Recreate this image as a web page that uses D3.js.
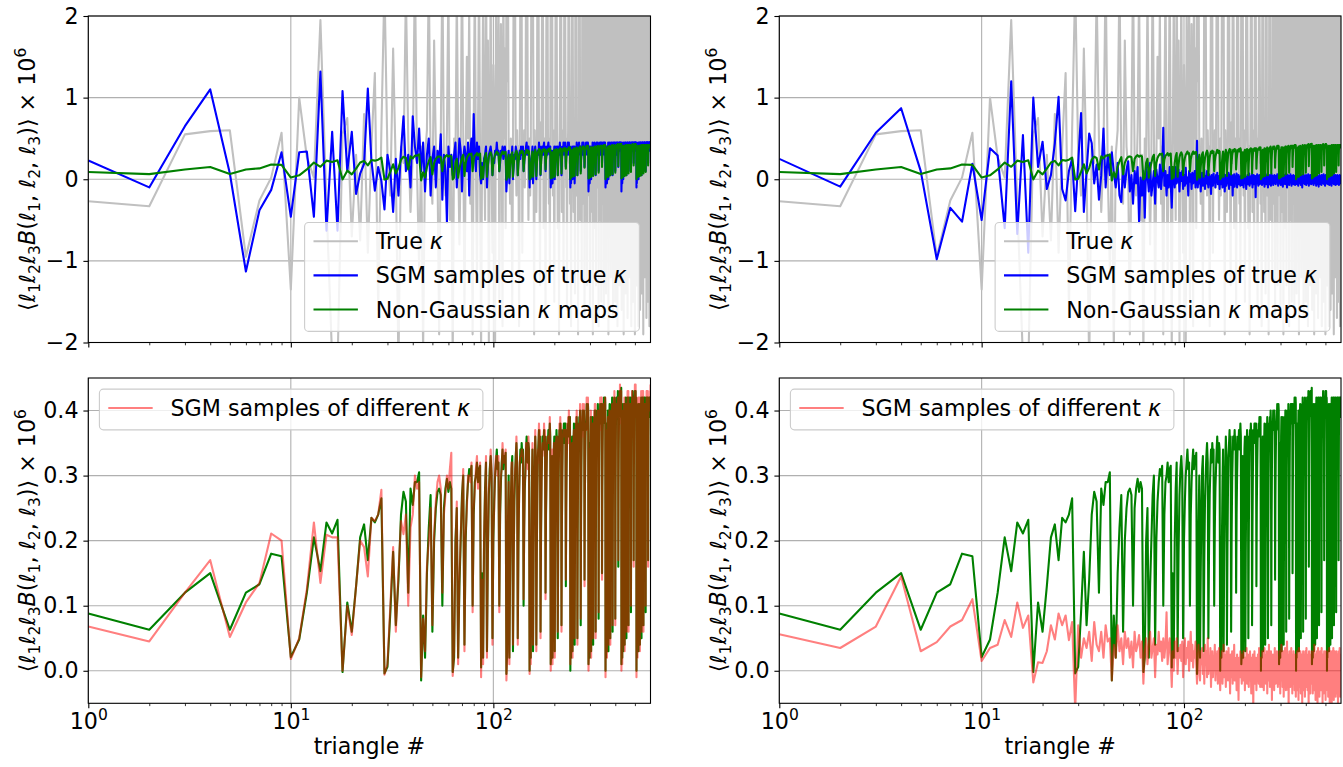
<!DOCTYPE html>
<html>
<head>
<meta charset="utf-8">
<title>Bispectrum per triangle</title>
<script src="https://cdn.jsdelivr.net/npm/d3@7"></script>
<style>
  body { margin: 0; background: #fff; }
  svg text { font-family: "DejaVu Sans", sans-serif; }
</style>
</head>
<body>
<svg id="fig" width="1343" height="767"></svg>
<script>
// <l1 l2 l3 B> x 1e6 for each triangle (1..597), one line per l3 bin

// gray: true kappa (both top panels)
var trueKappa = [
-.27,
-.33,.55,.59,
.6,-.95,-.26,.02,.57,
-1.35,1.0,.27,.02,1.95,-.3,-2.2,-2.3,
.55,.75,-.7,.3,-.75,.8,-.9,.4,1.3,-1.6,.6,
2.4,.3,-.2,1.6,.1,-2.3,.4,.2,2.3,.5,-.4,.3,2.6,.1,-1.1,
.4,-2.1,.3,.6,2.5,.2,-.3,1.7,.4,.1,-1.9,.5,2.6,.3,-.2,.6,2.4,-.5,.3,
-2.2,.5,.2,2.3,.4,-.8,.3,2.7,.6,-1.6,.2,1.5,.5,2.1,-.3,.4,-1.9,.7,2.5,.3,-1.2,.6,2.6,.2,
-2.1,.4,2.2,.6,-.5,2.8,.3,1.7,-2.0,.5,2.4,.2,-.9,1.4,.6,-2.2,2.0,.8,.3,2.6,-1.5,.4,1.9,.7,-1.8,2.7,.5,1.6,-.6,
2.3,1.2,2.8,.4,.1,-.3,.5,.2,-1.6,.4,2.6,1.9,2.4,.3,-.2,.6,.1,.4,-1.8,.3,2.7,.8,2.1,-.9,.5,.2,.6,-.1,.3,2.5,1.4,2.9,.4,-.5,.2,
.5,-.2,.3,2.4,2.9,1.6,2.2,.3,-1.9,.6,.1,.4,-.4,.2,2.6,1.3,2.8,.5,.0,-1.3,.4,.7,.2,2.3,2.7,1.8,-.6,.3,.5,.1,-1.7,.4,2.5,1.1,2.9,.6,.2,-.3,.5,-1.1,.3,
2.7,2.2,1.5,2.9,.4,-.2,.6,.1,-1.5,.3,.5,2.4,1.8,2.8,1.2,.3,-.6,.2,.4,-1.9,.1,.6,2.6,2.1,2.9,.5,-.4,.3,.0,.6,-1.2,.2,2.5,1.6,2.7,1.0,.4,-.1,.5,-1.6,.3,.2,.6,2.8,2.3,1.4,.5,-.3,
.4,.1,-1.8,.5,2.6,2.0,2.9,1.3,.3,-.4,.6,.2,.0,-1.4,2.4,1.7,2.8,.5,-.2,.4,.1,.6,-1.9,.3,2.7,2.2,1.5,2.9,.6,-.5,.2,.4,.1,-1.1,.5,2.5,1.2,2.6,.3,-.3,.6,.2,-1.7,.4,2.8,1.9,2.3,.5,.0,.4,-1.3,.3,.6,2.7,1.6,
2.9,.4,-.2,.5,.1,-1.6,.3,2.6,2.1,1.4,2.8,.6,-.4,.2,.5,-1.9,.1,.4,2.5,1.8,2.9,1.1,.3,-.6,.5,.2,-1.3,.6,2.7,2.3,1.6,2.8,.4,-.1,.3,.6,-1.8,.2,2.4,1.5,2.9,.5,-.5,.3,.1,.6,-1.5,.4,2.6,2.0,1.3,2.7,.2,-.3,.5,.0,-1.7,.4,2.8,1.7,2.5,.6,-.2,
.3,.5,-1.4,.2,2.7,2.2,1.5,2.9,.4,-.3,.6,.1,-1.9,.5,2.4,1.8,2.8,1.0,.3,-.5,.2,.6,-1.2,.4,2.6,2.1,2.9,1.4,.5,-.2,.3,.0,-1.7,.6,2.5,1.6,2.7,1.2,.4,-.6,.2,.5,-1.5,.3,2.8,2.3,1.7,2.9,.6,-.1,.4,.2,-1.8,.5,2.6,1.9,2.8,1.1,.3,-.4,.6,.1,-1.3,.4,2.7,2.0,2.9,1.5,.5,-.3,.2,
.6,-1.6,.3,2.5,1.8,2.9,1.3,.4,-.2,.5,.1,-1.9,.6,2.7,2.2,1.6,2.8,.5,-.4,.3,.2,-1.4,.4,2.6,1.9,2.9,1.1,.3,-.5,.6,.0,-1.7,.5,2.8,2.4,1.5,2.7,.4,-.1,.2,.6,-1.2,.3,2.5,2.0,2.9,1.4,.6,-.3,.4,.1,-1.8,.5,2.7,1.7,2.8,1.2,.2,-.6,.5,.3,-1.5,.4,2.6,2.3,2.9,1.6,.5,-.2,.1,.6,-1.9,.3,2.8,1.9,2.5,1.0,.4,-.4,.2,
.5,-1.3,.3,2.7,2.1,2.9,1.4,.6,-.3,.2,.4,-1.8,.5,2.6,1.8,2.8,1.2,.3,-.5,.6,.1,-1.6,.4,2.9,2.3,1.7,2.6,.5,-.2,.3,.6,-1.4,.2,2.5,1.9,2.8,1.1,.4,-.6,.5,.0,-1.9,.6,2.7,2.2,2.9,1.5,.3,-.1,.4,.2,-1.2,.5,2.8,1.6,2.6,1.3,.6,-.4,.3,.1,-1.7,.4,2.9,2.4,1.8,2.7,.5,-.3,.6,.2,-1.5,.3,2.6,2.0,2.8,1.0,.4,-.5,.5,.1,-1.8,.6,2.7,1.7,2.9,1.4,.3,-.2
];

// blue: SGM samples of true kappa, left model
var sgmTrueLeft = [
.23,
-.1,.65,1.1,
.07,-1.13,-.38,-.13,.33,
-.46,.33,.34,-.46,1.32,-.63,.58,-.63,
1.08,.1,.58,-.18,.07,.19,1.11,.23,-.14,.15,-.02,
-.37,.3,.1,-.4,.25,-.2,.35,.77,.1,.3,-.1,.77,.4,.2,.62,
.1,.45,-.15,.3,.5,-.2,.25,.4,-.1,.35,.2,.55,-.25,.3,.1,-.53,.4,.15,.3,
.05,.3,.45,-.1,.2,.5,.35,-.15,.25,.4,.3,.1,.45,-.2,.35,.5,.2,.8,.3,.1,.45,.25,.4,.05,
-.05,.2,.0,.25,.3,.4,-.1,.15,.3,.35,.4,.3,.05,.25,.2,.35,.3,.45,.3,.35,.1,.2,.35,.3,.4,.25,.35,.4,.3,
-.15,.05,.25,.35,-.05,.2,.3,.25,.4,.0,.15,.3,.25,.4,.35,.3,.05,.25,.3,.35,.25,.4,.35,.3,.4,.1,.2,.35,.3,.4,.45,.3,.35,.4,.3,
-.1,.2,.0,.25,.3,.4,-.05,.2,.3,.35,.4,.3,.0,.2,.3,.35,.3,.45,.35,.4,.05,.25,.3,.4,.35,.3,.4,.45,.3,.4,.1,.25,.35,.4,.3,.4,.45,.35,.4,.3,.4,
-.1,.0,.3,.35,-.05,.2,.35,.3,.4,.0,.2,.3,.4,.35,.3,.4,.05,.25,.3,.4,.35,.45,.3,.4,.35,.05,.25,.35,.4,.3,.45,.35,.4,.3,.45,.35,.15,.3,.35,.4,.35,.45,.3,.4,.45,.35,.4,.4,
-.1,.2,-.05,.25,.35,.4,.0,.2,.3,.4,.35,.4,-.05,.2,.3,.35,.4,.3,.45,.35,.05,.25,.35,.3,.4,.45,.35,.4,.3,.4,.1,.25,.3,.4,.35,.45,.3,.4,.35,.45,.4,.35,.15,.3,.35,.4,.3,.45,.4,.35,.45,.4,.3,.45,.4,
-.15,.0,.3,.4,-.05,.25,.3,.4,.35,.0,.2,.35,.4,.3,.45,.35,.05,.2,.35,.4,.3,.45,.4,.35,.4,.05,.25,.35,.4,.45,.3,.4,.35,.45,.4,.35,.1,.25,.35,.4,.35,.45,.4,.3,.45,.4,.35,.45,.4,.2,.3,.4,.35,.45,.4,.35,.45,.4,.3,.45,.4,.45,.4,
-.1,.2,.0,.3,.35,.4,-.05,.2,.3,.4,.35,.45,.0,.2,.35,.3,.4,.45,.35,.4,.05,.25,.3,.4,.45,.35,.4,.3,.45,.4,.05,.3,.35,.4,.45,.35,.4,.45,.3,.4,.45,.4,.1,.3,.35,.45,.4,.35,.45,.4,.3,.45,.4,.45,.35,.4,.15,.3,.4,.45,.35,.45,.4,.45,.35,.4,.45,.4,.45,.35,.45,
-.15,.0,.3,.4,-.05,.25,.35,.4,.45,.0,.2,.35,.4,.35,.45,.4,.05,.25,.35,.4,.45,.35,.45,.4,.35,.05,.3,.35,.45,.4,.35,.45,.4,.45,.35,.4,.1,.3,.4,.45,.35,.45,.4,.45,.35,.4,.45,.4,.35,.1,.3,.4,.45,.4,.45,.35,.45,.4,.45,.35,.4,.45,.4,.45,.2,.35,.4,.45,.4,.45,.35,.45,.4,.45,.4,.45,.35,.45,.4,.45,
-.1,.2,-.05,.3,.35,.4,.0,.25,.35,.4,.45,.35,.0,.25,.3,.4,.45,.35,.45,.4,.05,.25,.35,.45,.4,.45,.35,.4,.45,.4,.05,.3,.35,.45,.4,.45,.35,.45,.4,.35,.45,.4,.1,.3,.4,.45,.4,.45,.35,.45,.4,.45,.35,.4,.45,.4,.1,.35,.4,.45,.4,.45,.35,.45,.4,.45,.4,.45,.35,.45,.4,.45,.2,.35,.4,.45,.4,.45,.4,.45,.35,.45,.4,.45,.4,.45,.35,.45,.4
];

// blue: SGM samples of true kappa, right model
var sgmTrueRight = [
.25,
-.09,.57,.87,
.1,-.98,-.35,-.52,.19,
-.5,.38,.29,-.6,1.2,-.67,.54,-.9,
1.0,.15,.46,-.12,.05,.44,1.01,-.12,-.26,.1,.25,
-.39,.2,.81,-.4,.1,.56,.44,-.05,.18,-.25,.05,.62,-.1,.3,.05,
.33,.08,-.1,.2,-.2,-.28,.15,-.1,.12,.22,-.15,.05,-.3,.1,-.05,.15,-.53,.02,-.2,
.1,-.47,.15,.05,-.15,.2,-.2,-.05,.1,-.3,.12,.0,-.1,.18,-.12,.05,.63,-.08,.1,-.2,.05,-.1,.15,-.05,
-.35,.05,.1,-.1,.15,-.05,.0,.12,-.15,.08,-.02,.1,-.12,.05,-.08,.14,-.05,.02,-.2,.1,-.03,.06,-.12,.08,-.05,.0,.1,-.1,.05,
.47,-.1,.05,-.05,.1,-.15,.02,.08,-.08,.0,.12,-.12,.04,-.05,.1,-.02,-.1,.06,-.06,.03,-.18,.05,.0,-.08,.07,-.04,.02,-.1,.05,-.02,.08,-.06,.0,.04,-.12,
.05,-.06,.0,.07,-.1,.03,-.04,.06,-.15,.02,.05,-.08,.0,.04,-.05,.08,-.12,.02,-.03,.06,-.07,.01,.05,-.2,.03,-.02,.06,-.09,.0,.04,-.05,.07,-.1,.02,-.03,.05,-.06,.0,.03,-.08,.04,
-.02,.05,-.07,.02,.0,-.1,.04,-.03,.06,-.05,.01,-.12,.03,.0,.05,-.06,.02,-.04,.07,-.08,.0,.03,-.05,.04,-.02,.06,-.1,.01,-.03,.05,-.06,.02,-.01,.04,-.22,.03,.0,-.05,.06,-.03,.02,-.08,.04,-.01,.05,-.06,.0,.03,
-.04,.02,.05,-.07,.0,.03,-.05,.06,-.02,.01,-.09,.04,-.03,.02,.05,-.06,.0,.03,-.04,.07,-.1,.01,.04,-.03,.02,-.06,.05,-.01,.0,-.08,.03,.06,-.04,.01,-.02,.04,-.07,.02,.0,-.05,.05,-.03,.03,-.01,-.06,.04,.0,.02,-.04,.06,-.02,.01,-.08,.03,.0,
.02,-.05,.04,-.02,.0,.05,-.07,.01,.03,-.04,.06,-.03,.0,-.09,.02,.04,-.05,.01,.03,-.02,.05,-.06,.0,.02,-.04,.07,-.03,.01,-.1,.03,.0,.05,-.05,.02,-.02,.04,-.07,.01,.03,-.03,.0,.06,-.04,.02,-.01,-.08,.04,.0,.03,-.05,.02,-.02,.05,-.06,.01,.0,.04,-.03,.02,-.07,.03,.0,-.04,
.03,-.02,.0,.05,-.06,.02,-.03,.04,-.01,-.08,.03,.01,.05,-.04,.0,.02,-.05,.06,-.02,.01,-.07,.03,.0,.04,-.03,.02,-.1,.05,-.01,.01,-.04,.03,.06,-.05,.0,.02,-.03,.04,-.06,.01,.03,-.02,.0,.05,-.07,.02,-.01,.04,-.04,.0,.03,-.05,.02,.06,-.03,.01,-.08,.04,.0,-.02,.03,-.05,.01,.05,-.04,.02,.0,-.06,.03,-.01,.02,
-.03,.04,.0,-.05,.02,.05,-.02,.01,-.07,.03,.0,.04,-.04,.02,-.01,.06,-.05,.0,.03,-.03,.01,-.08,.04,.02,-.02,.0,.05,-.06,.01,.03,-.04,.02,-.01,.04,-.09,.0,.03,-.02,.05,-.05,.01,.02,-.03,.04,-.06,.0,.03,-.01,.02,-.07,.05,.0,-.03,.01,.04,-.04,.02,-.02,.03,-.05,.0,.06,-.03,.01,-.06,.02,.04,-.02,.0,-.08,.03,.01,-.04,.05,-.01,.02,-.05,.0,.03,-.02,
.01,-.04,.03,.0,-.02,.05,-.06,.02,.0,-.03,.04,-.05,.01,.03,-.07,.02,.0,-.02,.05,-.04,.01,.03,-.06,.0,.02,-.03,.04,-.08,.01,.03,-.02,.0,.05,-.05,.02,-.01,.03,-.04,.0,.06,-.03,.01,-.06,.02,.04,-.02,.0,-.05,.03,.01,-.03,.05,-.07,.0,.02,-.01,.04,-.04,.01,.03,-.06,.0,.02,-.03,.05,-.02,.01,-.05,.03,.0,-.04,.02,.04,-.01,-.07,.03,.0,.02,-.03,.05,-.02,.01,-.05,.03,.0,-.02,.04,-.03,.01
];

// green: non-Gaussian kappa maps (all four panels)
var nonGauss = [
.088,
.063,.12,.15,
.063,.12,.133,.18,.176,
.021,.048,.12,.205,.153,.228,.211,.232,
-.002,.105,.06,.13,.205,.225,.17,.235,.228,.24,.265,
-.004,.006,.09,.183,.07,.14,.24,.275,.26,.12,.28,.255,.29,.29,.305,
-.015,.085,.02,.15,.22,.27,.06,.2,.25,.275,.28,.27,.10,.25,.28,.295,.275,.29,.28,
-.002,.02,.2,.25,.02,.13,.2,.27,.3,.04,.2,.26,.29,.31,.3,.315,.1,.24,.29,.3,.32,.29,.31,.315,
.005,.15,.02,.2,.28,.32,.03,.18,.27,.31,.33,.3,.05,.2,.26,.3,.32,.34,.31,.32,.1,.24,.29,.32,.34,.31,.33,.32,.335,
-.005,.03,.22,.3,.02,.15,.26,.31,.33,.03,.17,.26,.3,.33,.35,.32,.05,.19,.27,.31,.34,.32,.35,.33,.34,.1,.22,.28,.31,.34,.36,.33,.32,.35,.34,
.0,.16,.02,.2,.29,.34,.03,.18,.27,.32,.36,.33,.04,.19,.28,.33,.35,.37,.33,.36,.06,.21,.29,.33,.36,.34,.35,.37,.34,.36,.12,.24,.3,.34,.36,.35,.37,.34,.36,.38,.36,
.01,.03,.25,.33,.02,.19,.29,.34,.36,.03,.18,.28,.34,.37,.35,.36,.05,.2,.29,.34,.37,.35,.38,.36,.37,.07,.22,.3,.35,.37,.36,.38,.35,.38,.36,.38,.13,.25,.31,.35,.37,.36,.38,.37,.39,.36,.38,.39,
.0,.17,.02,.22,.31,.36,.03,.2,.29,.35,.38,.36,.04,.19,.29,.35,.38,.36,.39,.37,.05,.21,.3,.35,.38,.37,.39,.36,.4,.38,.07,.23,.31,.36,.38,.37,.4,.38,.39,.37,.4,.38,.14,.26,.32,.36,.38,.37,.39,.41,.38,.4,.39,.41,.4,
.01,.03,.26,.35,.02,.2,.3,.36,.39,.03,.19,.29,.35,.39,.37,.38,.04,.2,.3,.36,.39,.37,.4,.38,.4,.06,.22,.31,.36,.39,.38,.4,.37,.41,.39,.4,.08,.24,.32,.37,.39,.38,.41,.39,.4,.38,.41,.39,.41,.15,.27,.33,.37,.39,.38,.41,.4,.42,.39,.41,.4,.42,.41,
.0,.18,.02,.23,.33,.38,.03,.21,.31,.37,.4,.38,.03,.2,.3,.36,.39,.41,.38,.4,.05,.21,.31,.37,.4,.38,.41,.39,.42,.4,.06,.23,.32,.37,.4,.39,.41,.38,.42,.4,.41,.4,.08,.25,.33,.38,.4,.39,.42,.4,.41,.39,.42,.4,.43,.41,.16,.28,.34,.38,.4,.39,.42,.41,.43,.4,.42,.41,.43,.42,.435,
.01,.03,.27,.37,.02,.21,.32,.38,.41,.03,.2,.31,.37,.4,.38,.41,.04,.21,.31,.37,.4,.39,.42,.4,.41,.05,.22,.32,.38,.4,.39,.42,.39,.41,.4,.42,.07,.24,.33,.38,.41,.39,.42,.4,.41,.39,.42,.4,.41,.09,.26,.34,.38,.4,.39,.42,.4,.41,.43,.4,.42,.39,.41,.4,.17,.29,.35,.39,.41,.39,.42,.43,.4,.42,.41,.43,.41,.4,.42,.41,
.0,.19,.02,.24,.34,.39,.03,.22,.32,.38,.4,.41,.03,.21,.31,.37,.4,.38,.41,.39,.04,.21,.32,.37,.4,.38,.41,.39,.42,.4,.05,.23,.33,.38,.4,.39,.42,.4,.41,.39,.42,.4,.07,.24,.34,.38,.41,.39,.42,.4,.41,.39,.42,.4,.41,.39,.09,.26,.35,.39,.4,.38,.42,.4,.41,.39,.42,.4,.41,.39,.42,.4,.17,.29,.36,.39,.41,.39,.42,.4,.41,.39,.42,.4,.41,.39,.42,.4,.41
];

// red: SGM samples of different kappa, left model
var sgmDiffLeft = [
.068,
.045,.12,.17,
.052,.105,.135,.211,.2,
.018,.05,.125,.228,.135,.209,.205,.205,
.0,.1,.055,.13,.2,.19,.145,.235,.23,.24,.278,
-.006,.01,.1,.19,.06,.15,.23,.21,.24,.1,.22,.24,.3,.28,.29,
-.01,.08,.03,.16,.2,.25,.07,.21,.26,.29,.3,.28,.12,.24,.27,.3,.28,.31,.335,
-.008,.03,.19,.26,.01,.14,.21,.26,.31,.03,.21,.25,.3,.3,.29,.32,.09,.25,.28,.31,.33,.28,.3,.32,
-.01,.14,.01,.21,.27,.33,.02,.19,.28,.3,.34,.31,.04,.21,.25,.31,.33,.33,.3,.33,.09,.25,.3,.31,.35,.32,.32,.33,.34,
-.015,.02,.23,.29,.01,.16,.25,.32,.32,.04,.16,.27,.31,.32,.36,.31,.04,.2,.26,.32,.33,.33,.34,.34,.33,.11,.21,.29,.3,.35,.35,.34,.31,.36,.33,
-.005,.17,.01,.21,.28,.35,.04,.17,.28,.31,.37,.32,.03,.2,.27,.34,.34,.38,.32,.37,.05,.22,.28,.34,.35,.35,.34,.38,.33,.37,.11,.25,.29,.35,.35,.36,.36,.35,.35,.39,.35,
.0,.04,.24,.34,.01,.2,.28,.35,.35,.02,.19,.27,.35,.36,.36,.35,.06,.19,.3,.33,.38,.34,.39,.35,.38,.06,.23,.29,.36,.36,.37,.37,.36,.37,.37,.37,.14,.24,.32,.34,.38,.35,.39,.36,.4,.35,.39,.38,
.01,.16,.03,.21,.32,.35,.02,.21,.28,.36,.37,.37,.05,.18,.3,.34,.39,.35,.4,.36,.04,.22,.29,.36,.37,.38,.38,.37,.41,.37,.08,.22,.32,.35,.39,.36,.41,.37,.4,.36,.41,.37,.13,.27,.31,.37,.37,.38,.38,.42,.37,.41,.38,.42,.39,
.0,.02,.27,.34,.03,.19,.31,.35,.4,.02,.2,.28,.36,.38,.38,.37,.05,.19,.31,.35,.4,.36,.41,.37,.41,.05,.23,.3,.37,.38,.39,.39,.38,.4,.4,.39,.09,.23,.33,.36,.4,.37,.42,.38,.41,.37,.42,.38,.42,.14,.28,.32,.38,.38,.39,.4,.41,.41,.4,.4,.41,.41,.42,
-.01,.19,.03,.22,.34,.37,.02,.22,.3,.38,.39,.39,.04,.19,.31,.35,.4,.4,.39,.39,.04,.22,.3,.38,.39,.39,.4,.4,.41,.41,.07,.22,.33,.36,.41,.38,.42,.37,.43,.39,.42,.39,.07,.26,.32,.39,.39,.4,.41,.41,.4,.4,.41,.41,.42,.42,.17,.27,.35,.37,.41,.38,.43,.4,.44,.39,.43,.4,.42,.43,.43,
.0,.04,.26,.38,.01,.22,.31,.39,.4,.04,.19,.32,.36,.41,.37,.42,.03,.22,.3,.38,.39,.4,.41,.41,.4,.06,.21,.33,.37,.41,.38,.43,.38,.42,.39,.43,.06,.25,.32,.39,.4,.4,.41,.41,.4,.4,.41,.41,.4,.1,.25,.35,.37,.41,.38,.43,.39,.42,.42,.41,.41,.4,.42,.39,.16,.3,.34,.4,.4,.4,.41,.44,.39,.43,.4,.44,.4,.41,.41,.42,
-.01,.2,.03,.23,.35,.38,.02,.23,.31,.39,.39,.42,.04,.2,.32,.36,.41,.37,.42,.38,.03,.22,.31,.38,.39,.39,.4,.4,.43,.39,.06,.22,.34,.37,.41,.38,.43,.39,.42,.38,.43,.39,.06,.25,.33,.39,.4,.4,.41,.41,.4,.4,.41,.41,.4,.4,.1,.25,.36,.38,.41,.37,.43,.39,.42,.38,.43,.39,.42,.38,.43,.41,.16,.3,.35,.4,.4,.4,.41,.41,.4,.4,.41,.41,.41,.4,.43,.41,.44
];

// red: SGM samples of different kappa, right model
var sgmDiffRight = [
.056,
.035,.068,.145,
.03,.044,.068,.078,.11,
.015,.035,.04,.078,.052,.105,.066,.085,
-.018,.013,.012,.03,.07,.048,.088,.07,.085,.047,.075,
-.06,.07,.02,.05,.035,.06,.015,.075,.04,.03,.06,.02,.07,.045,.05,
-.015,.04,.02,.07,.03,.05,.01,.06,.035,.05,.02,.045,.005,.06,.03,.04,.055,.02,.045,
-.02,.03,.05,.01,.04,.06,.02,.035,.05,-.01,.04,.025,.06,.03,.045,.015,.05,.02,.04,.09,.01,.035,.05,.02,
-.025,.03,.0,.045,.02,.05,-.005,.035,.02,.04,.015,.045,-.01,.03,.05,.01,.035,.02,.045,.0,.03,.06,.015,.04,.005,.03,.02,.045,.01,
-.02,.02,.04,.0,-.015,.03,.01,.035,-.005,.025,-.02,.04,.01,.03,-.01,.05,-.005,.02,.0,.035,-.025,.015,.03,-.01,.02,.005,.04,-.015,.025,.0,.03,-.02,.015,.035,.005,
-.03,.02,.0,.03,-.02,.01,.04,-.01,.025,.005,-.025,.03,.0,.02,-.015,.035,-.005,.01,-.035,.025,.005,-.01,.03,-.02,.015,.0,.04,-.015,.02,-.005,.01,-.03,.025,.0,.015,-.045,.02,.005,-.01,.03,-.005,
.0,-.02,.025,.005,-.015,.03,-.005,.015,-.03,.02,.0,-.01,.035,-.02,.01,.025,-.005,-.025,.015,.0,.03,-.015,.005,-.035,.02,.01,-.01,.025,-.06,.015,.0,.03,-.02,.01,-.005,.02,-.03,.015,.005,-.015,.025,.0,-.02,.035,-.01,.01,-.025,.02,
-.01,.02,.0,-.025,.03,.005,-.015,.02,-.03,.01,.035,-.01,.0,.025,-.02,.015,-.005,.03,-.035,.01,.0,.02,-.015,.04,-.01,.005,-.025,.02,.0,.03,-.02,.01,-.045,.015,.005,.025,-.015,.0,.02,-.03,.01,.035,-.01,.005,-.02,.025,.0,-.015,.03,-.005,.01,-.025,.02,.005,-.01,
.0,.03,-.02,.01,-.035,.02,.005,-.01,.04,-.015,.0,.025,-.025,.01,-.005,.03,-.04,.015,.0,.02,-.015,.035,-.005,.01,-.03,.02,.0,-.02,.045,-.01,.005,.025,-.03,.01,-.065,.02,.0,.03,-.015,.005,-.025,.02,.01,-.01,.035,-.02,.0,.015,-.035,.025,-.005,.01,-.02,.03,.0,-.015,.02,-.03,.005,.025,-.01,.015,-.04,
.01,-.02,.025,-.005,.0,.03,-.03,.015,-.01,.02,-.045,.005,.035,-.015,.0,.02,-.025,.01,.03,-.01,-.035,.015,.0,.025,-.02,.005,-.05,.02,.01,-.015,.03,-.005,.0,-.03,.025,.01,-.02,.015,-.04,.005,.03,-.01,.02,-.025,.0,.035,-.015,.01,-.005,.02,-.03,.0,.025,-.02,.015,-.06,.01,.03,-.01,.005,-.025,.02,.0,-.035,.015,.025,-.015,.005,-.02,.03,-.005,
.0,.025,-.02,.01,-.035,.02,.005,-.01,.03,-.025,.015,-.005,.04,-.03,.0,.02,-.015,.01,-.045,.025,.005,-.02,.015,.0,-.03,.03,-.01,.01,-.055,.02,.0,.035,-.015,.005,-.025,.02,-.005,.01,-.04,.025,.0,-.02,.03,-.01,.015,-.03,.005,.02,-.015,.0,.035,-.025,.01,-.005,.02,-.05,.015,.0,.025,-.02,.01,-.035,.02,-.005,.03,-.015,.0,.015,-.03,.025,-.01,.005,-.045,.02,.0,.03,-.02,.01,-.025,.015,
-.01,.02,.0,-.03,.025,-.015,.01,-.04,.03,.0,-.02,.015,-.005,.035,-.025,.01,-.05,.02,.005,-.015,.03,-.01,.0,.025,-.035,.015,-.005,.02,-.06,.01,.03,-.02,.005,.025,-.03,.0,.015,-.01,.035,-.025,.01,-.045,.02,.0,-.015,.03,-.005,.01,-.03,.025,-.02,.005,.015,-.04,.02,.0,-.01,.03,-.025,.01,-.005,.02,-.035,.015,.0,.025,-.02,.005,-.055,.02,.01,-.015,.03,-.005,.0,-.03,.02,.01,-.02,.035,-.01,.005,-.04,.025,.0,-.015,.02,-.03,.01
];

var N = 597; // number of triangles
var topTicks = [-2, -1, 0, 1, 2];
var bottomTicks = [0, 0.1, 0.2, 0.3, 0.4];
var xMajor = [1, 10, 100];
var xMinor = [2, 3, 4, 5, 6, 7, 8, 9, 20, 30, 40, 50, 60, 70, 80, 90, 200, 300, 400, 500];

var fs = 22.2; // base font size
var svg = d3.select("#fig");

// panel geometry
var cols = [{l: 88.3, r: 650.5}, {l: 779.3, r: 1341}];
var rows = [
  {t: 16, b: 342.5, dom: [-2, 2], ticks: topTicks,
   fmt: function (d) { return d < 0 ? "\u2212" + (-d) : "" + d; }},
  {t: 378, b: 703.3, dom: [-0.05, 0.45], ticks: bottomTicks, fmt: d3.format(".1f")}
];

var kap = [{t: "\u03ba", it: true}];
var topLegend = [
  {parts: [{t: "True "}].concat(kap), color: "#c0c0c0", op: 1},
  {parts: [{t: "SGM samples of true "}].concat(kap), color: "#0000ff", op: 1},
  {parts: [{t: "Non-Gaussian "}].concat(kap, [{t: " maps"}]), color: "#008000", op: 1}
];
var bottomLegend = [
  {parts: [{t: "SGM samples of different "}].concat(kap), color: "#ff0000", op: 0.5}
];

var panels = [
  {row: 0, col: 0, series: [
    {d: trueKappa, c: "#c0c0c0", op: 1}, {d: sgmTrueLeft, c: "#0000ff", op: 1}, {d: nonGauss, c: "#008000", op: 1}],
   legend: topLegend, where: "lower right"},
  {row: 0, col: 1, series: [
    {d: trueKappa, c: "#c0c0c0", op: 1}, {d: sgmTrueRight, c: "#0000ff", op: 1}, {d: nonGauss, c: "#008000", op: 1}],
   legend: topLegend, where: "lower right"},
  {row: 1, col: 0, series: [
    {d: nonGauss, c: "#008000", op: 1}, {d: sgmDiffLeft, c: "#ff0000", op: 0.5}],
   legend: bottomLegend, where: "upper left"},
  {row: 1, col: 1, series: [
    {d: nonGauss, c: "#008000", op: 1}, {d: sgmDiffRight, c: "#ff0000", op: 0.5}],
   legend: bottomLegend, where: "upper left"}
];

// y label pieces: <l1 l2 l3 B(l1, l2, l3)> x 10^6
var ell = function (n) { return [{t: "\u2113", it: true}, {t: n, sub: true}]; };
var ylabelParts = [{t: "\u27e8"}].concat(ell("1"), ell("2"), ell("3"), [{t: "B", it: true}, {t: "("}],
  ell("1"), [{t: ", "}], ell("2"), [{t: ", "}], ell("3"), [{t: ")\u27e9 \u00d7 10"}, {t: "6", sup: true}]);

function addParts(textSel, parts, size) {
  var cur = 0;
  parts.forEach(function (p) {
    var target = p.sub ? 0.22 * size : (p.sup ? -0.42 * size : 0);
    var ts = textSel.append("tspan").text(p.t).attr("dy", target - cur);
    if (p.sub || p.sup) ts.attr("font-size", 0.7 * size);
    if (p.it) ts.attr("font-style", "italic");
    cur = target;
  });
}

function drawLegend(g, items, where, box) {
  var pad = 0.4 * fs, hl = 2 * fs, htp = 0.8 * fs, rowH = 23, sp = 0.5 * fs, axPad = 0.5 * fs;
  var lg = g.append("g");
  var frame = lg.append("rect");
  var texts = items.map(function (it) {
    var t = lg.append("text").attr("font-size", fs).attr("fill", "#000");
    addParts(t, it.parts, fs);
    return t;
  });
  var textW = d3.max(texts, function (t) { return t.node().getComputedTextLength(); }) + 4;
  var w = pad + hl + htp + textW + pad;
  var h = 2 * pad + items.length * rowH + (items.length - 1) * sp;
  var x0 = where === "lower right" ? box.r - axPad - w : box.l + axPad;
  var y0 = where === "lower right" ? box.b - axPad - h : box.t + axPad;
  frame.attr("x", x0).attr("y", y0).attr("width", w).attr("height", h)
    .attr("rx", 4).attr("fill", "#fff").attr("fill-opacity", 0.8)
    .attr("stroke", "#cccccc").attr("stroke-width", 1.1);
  items.forEach(function (it, i) {
    var cy = y0 + pad + i * (rowH + sp) + rowH / 2 - 1.5;
    lg.append("line").attr("x1", x0 + pad).attr("x2", x0 + pad + hl)
      .attr("y1", cy).attr("y2", cy)
      .attr("stroke", it.color).attr("stroke-opacity", it.op).attr("stroke-width", 2.1);
    texts[i].attr("x", x0 + pad + hl + htp).attr("y", cy + 0.36 * fs);
  });
}

panels.forEach(function (p, pi) {
  var col = cols[p.col], row = rows[p.row];
  var x = d3.scaleLog().domain([1, N]).range([col.l, col.r]);
  var y = d3.scaleLinear().domain(row.dom).range([row.b, row.t]);
  var g = svg.append("g");

  // grid
  g.append("g").selectAll("line").data(xMajor).join("line")
    .attr("x1", function (d) { return x(d); }).attr("x2", function (d) { return x(d); })
    .attr("y1", row.t).attr("y2", row.b)
    .attr("stroke", "#b0b0b0").attr("stroke-width", 1.1);
  g.append("g").selectAll("line").data(row.ticks).join("line")
    .attr("x1", col.l).attr("x2", col.r)
    .attr("y1", function (d) { return y(d); }).attr("y2", function (d) { return y(d); })
    .attr("stroke", "#b0b0b0").attr("stroke-width", 1.1);

  // data
  var clipId = "clip" + pi;
  g.append("clipPath").attr("id", clipId).append("rect")
    .attr("x", col.l).attr("y", row.t).attr("width", col.r - col.l).attr("height", row.b - row.t);
  var line = d3.line()
    .x(function (d, i) { return x(i + 1); })
    .y(function (d) { return y(d); });
  var dg = g.append("g").attr("clip-path", "url(#" + clipId + ")");
  p.series.forEach(function (s) {
    dg.append("path").datum(s.d).attr("d", line)
      .attr("fill", "none").attr("stroke", s.c).attr("stroke-opacity", s.op)
      .attr("stroke-width", 2.1).attr("stroke-linejoin", "round").attr("stroke-linecap", "butt");
  });

  // frame
  g.append("rect").attr("x", col.l).attr("y", row.t)
    .attr("width", col.r - col.l).attr("height", row.b - row.t)
    .attr("fill", "none").attr("stroke", "#000").attr("stroke-width", 1.1);

  // axes
  var ax = g.append("g").attr("transform", "translate(0," + row.b + ")")
    .call(d3.axisBottom(x).tickValues(xMajor).tickSize(4.9).tickPadding(4.9).tickFormat(""));
  ax.select(".domain").remove();
  ax.selectAll(".tick line").attr("stroke-width", 1.1);
  ax.attr("font-size", fs).attr("font-family", null);
  if (p.row === 1) {
    ax.selectAll(".tick text").each(function (d) {
      var t = d3.select(this);
      t.append("tspan").text("10");
      t.append("tspan").attr("dy", -0.4 * fs).attr("font-size", 0.7 * fs).text(Math.round(Math.log10(d)));
    });
  }
  var axm = g.append("g").attr("transform", "translate(0," + row.b + ")")
    .call(d3.axisBottom(x).tickValues(xMinor).tickSize(2.8).tickFormat(""));
  axm.select(".domain").remove();
  axm.selectAll(".tick line").attr("stroke-width", 0.8);

  var ay = g.append("g").attr("transform", "translate(" + col.l + ",0)")
    .call(d3.axisLeft(y).tickValues(row.ticks).tickSize(4.9).tickPadding(4.9).tickFormat(row.fmt));
  ay.select(".domain").remove();
  ay.selectAll(".tick line").attr("stroke-width", 1.1);
  ay.attr("font-size", fs).attr("font-family", null);

  // labels
  var yl = g.append("text").attr("font-size", fs).attr("text-anchor", "middle")
    .attr("transform", "translate(" + (col.l - 53) + "," + ((row.t + row.b) / 2) + ") rotate(-90)");
  addParts(yl, ylabelParts, fs);
  if (p.row === 1) {
    g.append("text").attr("font-size", fs).attr("text-anchor", "middle")
      .attr("x", (col.l + col.r) / 2).attr("y", row.b + 51)
      .text("triangle #");
  }

  drawLegend(g, p.legend, p.where, {l: col.l, r: col.r, t: row.t, b: row.b});
});
</script>
</body>
</html>
